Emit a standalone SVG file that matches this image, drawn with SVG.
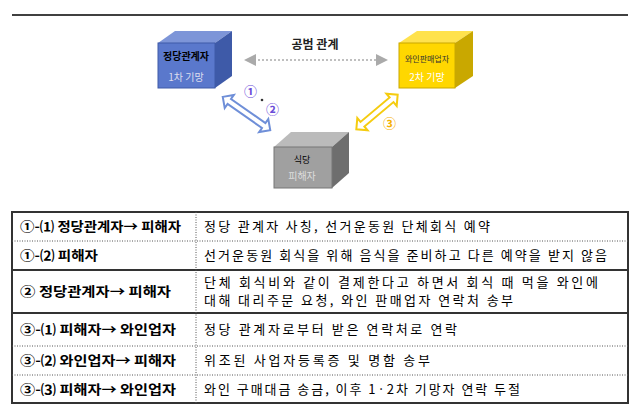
<svg xmlns="http://www.w3.org/2000/svg" width="640" height="406" viewBox="0 0 640 406">
<style>
text{font-family:"Noto Sans CJK KR","Noto Sans",sans-serif}
.l{font-size:13px;font-weight:bold;fill:#000}
.r{font-size:13px;fill:#000}
.sol{stroke:#333;stroke-width:2}
.dot{stroke:#555;stroke-width:1;stroke-dasharray:1,1.5}
</style>
<defs>
<marker id="ah" markerWidth="8" markerHeight="8" refX="4" refY="4" orient="auto-start-reverse"><path d="M0,0L8,4L0,8z" fill="#aaa"/></marker>
</defs>
<rect x="0" y="0" width="640" height="406" fill="#fff"/>
<line x1="12" y1="15" x2="628" y2="15" stroke="#000" stroke-width="1.5"/>
<g id="party">
<polygon points="158,43 175,31 232,31 215,43" fill="#7d95d8"/>
<polygon points="215,43 232,31 232,76 215,88" fill="#3e5aa8"/>
<rect x="158" y="43" width="57" height="45" fill="#5a78cc" stroke="#3e5aa8"/>
<text x="186" y="60" font-size="10" font-weight="bold" text-anchor="middle" fill="#000">정당관계자</text>
<text x="186" y="81" font-size="10" text-anchor="middle" fill="#dde">1차 기망</text>
</g>
<g id="wine">
<polygon points="399,43 417,31 473,31 455,43" fill="#ffe24d"/>
<polygon points="455,43 473,31 473,76 455,88" fill="#c9a800"/>
<rect x="399" y="43" width="56" height="45" fill="#ffd700" stroke="#c9a800"/>
<text x="427" y="62" font-size="8" text-anchor="middle" fill="#333">와인판매업자</text>
<text x="427" y="81" font-size="10" text-anchor="middle" fill="#fff">2차 기망</text>
</g>
<g id="victim">
<polygon points="274,147 291,132 349,132 332,147" fill="#bbb"/>
<polygon points="332,147 349,132 349,173 332,188" fill="#6e6e6e"/>
<rect x="274" y="147" width="58" height="41" fill="#a0a0a0" stroke="#777"/>
<text x="302" y="163" font-size="9" text-anchor="middle" fill="#000">식당</text>
<text x="302" y="180" font-size="10" text-anchor="middle" fill="#ddd">피해자</text>
</g>
<g id="connectors">
<text x="315" y="49" font-size="12" font-weight="bold" text-anchor="middle" fill="#222">공범 관계</text>
<line x1="250" y1="60" x2="382" y2="60" stroke="#aaa" stroke-width="1.5" stroke-dasharray="2,2" marker-start="url(#ah)" marker-end="url(#ah)"/>
<g transform="translate(246.5,113.5) rotate(35)">
<polygon points="-29,0 -21,-8 -21,-3 21,-3 21,-8 29,0 21,8 21,3 -21,3 -21,8" fill="#fff" stroke="#6f8fd8" stroke-width="2"/>
</g>
<g transform="translate(377,112) rotate(-40)">
<polygon points="-27,0 -19,-8 -19,-3 19,-3 19,-8 27,0 19,8 19,3 -19,3 -19,8" fill="#fff" stroke="#f5cc10" stroke-width="2"/>
</g>
<text x="244" y="96" font-size="13" font-weight="bold" fill="#6a4cd8">①</text>
<circle cx="262" cy="100" r="1.3" fill="#333"/>
<text x="266" y="114" font-size="13" font-weight="bold" fill="#6a4cd8">②</text>
<text x="383" y="128" font-size="13" font-weight="bold" fill="#f5b000">③</text>
</g>
<g id="table">
<rect x="12" y="212" width="616" height="191" fill="none" stroke="#333" stroke-width="2"/>
<line x1="12" y1="241" x2="628" y2="241" class="dot"/>
<line x1="12" y1="270" x2="628" y2="270" class="sol"/>
<line x1="12" y1="313" x2="628" y2="313" class="sol"/>
<line x1="12" y1="346" x2="628" y2="346" class="dot"/>
<line x1="12" y1="375" x2="628" y2="375" class="dot"/>
<line x1="196" y1="212" x2="196" y2="403" class="dot"/>
<text x="20" y="231" class="l" textLength="161" lengthAdjust="spacingAndGlyphs">①-⑴ 정당관계자→ 피해자</text>
<text x="20" y="260" class="l" textLength="78" lengthAdjust="spacingAndGlyphs">①-⑵ 피해자</text>
<text x="20" y="296" class="l" textLength="151" lengthAdjust="spacingAndGlyphs">② 정당관계자→ 피해자</text>
<text x="20" y="334" class="l" textLength="156" lengthAdjust="spacingAndGlyphs">③-⑴ 피해자→ 와인업자</text>
<text x="20" y="365" class="l" textLength="156" lengthAdjust="spacingAndGlyphs">③-⑵ 와인업자→ 피해자</text>
<text x="20" y="394" class="l" textLength="156" lengthAdjust="spacingAndGlyphs">③-⑶ 피해자→ 와인업자</text>
<text x="204" y="231" class="r" textLength="286" lengthAdjust="spacing">정당 관계자 사칭, 선거운동원 단체회식 예약</text>
<text x="204" y="260" class="r" textLength="403" lengthAdjust="spacing">선거운동원 회식을 위해 음식을 준비하고 다른 예약을 받지 않음</text>
<text x="204" y="287" class="r" textLength="394" lengthAdjust="spacing">단체 회식비와 같이 결제한다고 하면서 회식 때 먹을 와인에</text>
<text x="204" y="305" class="r" textLength="309" lengthAdjust="spacing">대해 대리주문 요청, 와인 판매업자 연락처 송부</text>
<text x="204" y="334" class="r" textLength="253" lengthAdjust="spacing">정당 관계자로부터 받은 연락처로 연락</text>
<text x="204" y="365" class="r" textLength="226" lengthAdjust="spacing">위조된 사업자등록증 및 명함 송부</text>
<text x="204" y="394" class="r" textLength="316" lengthAdjust="spacing">와인 구매대금 송금, 이후 1·2차 기망자 연락 두절</text>
</g>
</svg>
